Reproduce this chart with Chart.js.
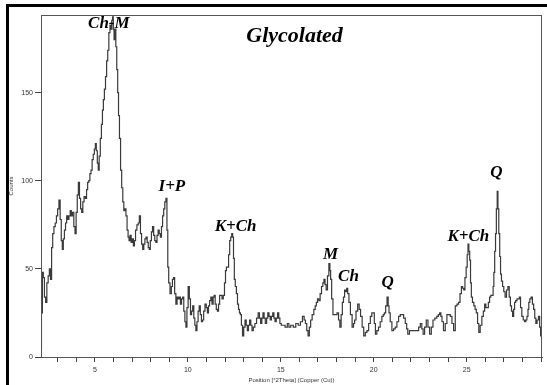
<!DOCTYPE html>
<html>
<head>
<meta charset="utf-8">
<script src="https://cdn.jsdelivr.net/npm/chart.js@4/dist/chart.umd.min.js"></script>
<style>
  html, body { margin: 0; padding: 0; background: #fff; }
  #wrap { width: 547px; height: 385px; position: relative; }
</style>
</head>
<body>
<div id="wrap"><canvas id="xrd" width="547" height="385"></canvas></div>
<script>
// diffraction trace (deg 2theta, counts)
const twoTheta = [
  2.10, 2.15, 2.20, 2.25, 2.32, 2.38, 2.45, 2.52, 2.58, 2.64,
  2.70, 2.76, 2.83, 2.90, 2.96, 3.03, 3.10, 3.16, 3.22, 3.27,
  3.33, 3.39, 3.45, 3.51, 3.57, 3.64, 3.70, 3.76, 3.83, 3.90,
  3.96, 4.02, 4.08, 4.14, 4.20, 4.26, 4.32, 4.38, 4.45, 4.52,
  4.58, 4.64, 4.70, 4.76, 4.82, 4.88, 4.94, 5.00, 5.05, 5.10,
  5.16, 5.20, 5.26, 5.32,
  5.38, 5.43, 5.48, 5.54, 5.60, 5.66, 5.72, 5.78, 5.84, 5.88,
  5.93, 5.97, 6.01, 6.05, 6.10, 6.15, 6.20, 6.25, 6.29, 6.35,
  6.41, 6.47, 6.53, 6.58, 6.64, 6.70, 6.76, 6.81, 6.86, 6.92,
  6.98, 7.04, 7.10, 7.15,
  7.22, 7.30, 7.36, 7.42, 7.48, 7.54, 7.60, 7.66, 7.72, 7.78,
  7.84, 7.90, 7.95, 8.01, 8.07, 8.13, 8.19, 8.25, 8.31, 8.37,
  8.43, 8.49, 8.55, 8.61, 8.67, 8.73, 8.79, 8.85, 8.90, 8.94,
  9.00, 9.08, 9.14, 9.20, 9.26, 9.32, 9.39, 9.45, 9.51, 9.57,
  9.63, 9.69, 9.75, 9.81, 9.87, 9.92, 9.98, 10.05, 10.11, 10.17,
  10.23, 10.29, 10.35, 10.40, 10.46, 10.52, 10.58, 10.64, 10.70, 10.76,
  10.82, 10.88, 10.96, 11.02, 11.08, 11.14, 11.20, 11.27, 11.33, 11.39,
  11.44, 11.50, 11.56, 11.62, 11.68, 11.74, 11.80, 11.87, 11.94, 12.00,
  12.05, 12.10, 12.16, 12.22, 12.28, 12.33, 12.39, 12.43, 12.48, 12.52,
  12.58,
  12.64, 12.70, 12.75, 12.80, 12.85, 12.91, 12.97, 13.04, 13.11, 13.17,
  13.23, 13.29, 13.35, 13.42, 13.48, 13.56, 13.65, 13.74, 13.82, 13.88,
  13.95, 14.01, 14.07, 14.13, 14.20, 14.27, 14.33, 14.40, 14.46, 14.53,
  14.60, 14.66, 14.72, 14.79, 14.86, 14.92, 14.98, 15.07, 15.16, 15.30,
  15.40, 15.47, 15.60, 15.74, 15.87, 16.00, 16.11, 16.22, 16.29, 16.36,
  16.43, 16.50, 16.57, 16.64, 16.73, 16.82, 16.88, 16.94, 17.01, 17.08,
  17.15, 17.23, 17.29, 17.35, 17.41, 17.47, 17.55, 17.62, 17.66, 17.70,
  17.77, 17.84, 17.91, 17.98,
  18.07, 18.14, 18.21, 18.28, 18.34, 18.40, 18.46, 18.52, 18.57, 18.63,
  18.70, 18.79, 18.88, 18.94, 19.00, 19.09, 19.18, 19.25, 19.33, 19.42,
  19.50, 19.59, 19.68, 19.77, 19.86, 19.93, 20.00, 20.06, 20.12, 20.21,
  20.30, 20.39, 20.48, 20.54, 20.60, 20.68, 20.75, 20.80, 20.84, 20.93,
  21.02, 21.11, 21.20, 21.29, 21.38, 21.47, 21.56, 21.65, 21.74, 21.80,
  21.86, 21.98, 22.10, 22.24, 22.37, 22.46, 22.55, 22.62, 22.69, 22.78,
  22.87, 22.96, 23.05, 23.14, 23.23, 23.34, 23.44, 23.51, 23.58, 23.64,
  23.70,
  23.80, 23.89, 23.98, 24.07, 24.16, 24.25, 24.34, 24.43, 24.52, 24.60,
  24.68, 24.75, 24.81, 24.87, 24.94, 25.00, 25.05, 25.09, 25.14, 25.18,
  25.23, 25.27, 25.35, 25.42, 25.48, 25.55, 25.62, 25.68, 25.77, 25.86,
  25.93, 26.00, 26.06, 26.13, 26.20, 26.26, 26.33, 26.40, 26.44, 26.48,
  26.53, 26.57, 26.62, 26.66, 26.70, 26.75, 26.80, 26.84, 26.90, 26.96,
  27.03, 27.10, 27.18, 27.25, 27.32, 27.38, 27.44, 27.50, 27.55, 27.60,
  27.67, 27.74, 27.80, 27.86, 27.93, 28.00, 28.08, 28.15, 28.21, 28.27,
  28.32, 28.36, 28.43, 28.50, 28.57, 28.63, 28.69, 28.75, 28.82, 28.90,
  28.95, 29.00
];

const counts = [
  4, 25, 48, 45, 34, 31, 42, 46, 50, 44,
  62, 70, 74, 76, 80, 84, 89, 78, 66, 61,
  67, 72, 76, 80, 78, 80, 83, 80, 82, 74,
  70, 82, 92, 99, 90, 84, 82, 88, 91, 90,
  95, 99, 100, 104, 106, 112, 115, 118, 121, 117,
  110, 106, 114, 124,
  132, 140, 146, 152, 159, 168, 174, 184, 188, 186,
  191, 193, 186, 180, 186, 176, 163, 150, 137, 124,
  106, 96, 88, 83, 84, 80, 72, 68, 66, 69,
  65, 67, 63, 66,
  72, 75, 76, 80, 70, 64, 61, 64, 67, 68,
  65, 62, 61, 66, 71, 74, 69, 66, 65, 69,
  72, 70, 68, 74, 80, 84, 88, 90, 72, 51,
  42, 36, 40, 44, 45, 36, 30, 34, 33, 34,
  30, 33, 34, 26, 20, 17, 28, 40, 33, 24,
  26, 29, 22, 18, 15, 20, 26, 29, 24, 20,
  21, 26, 30, 28, 25, 29, 32, 34, 30, 34,
  35, 30, 27, 26, 30, 35, 35, 33, 35, 42,
  49, 51, 51, 58, 66, 68, 70, 68, 56, 44,
  40,
  36, 30, 27, 25, 24, 18, 12, 17, 21, 18,
  15, 18, 21, 18, 15, 17, 19, 22, 25, 22,
  19, 22, 25, 22, 19, 22, 25, 23, 21, 23,
  25, 22, 20, 22, 25, 22, 19, 18, 18, 17,
  19, 17, 18, 17, 19, 18, 20, 23, 21, 19,
  15, 12, 17, 21, 24, 27, 29, 31, 33, 32,
  36, 40, 42, 44, 41, 38, 46, 53, 49, 44,
  33, 24, 24, 24,
  25, 21, 17, 24, 31, 34, 38, 37, 39, 36,
  31, 24, 17, 19, 21, 26, 30, 27, 23, 17,
  12, 14, 15, 19, 23, 25, 25, 19, 13, 15,
  17, 20, 23, 24, 25, 29, 34, 29, 25, 20,
  15, 16, 17, 20, 23, 24, 24, 22, 19, 16,
  13, 15, 15, 15, 15, 17, 19, 16, 13, 17,
  21, 17, 13, 17, 21, 22, 23, 24, 25, 23,
  20,
  15, 19, 24, 24, 23, 19, 15, 29, 30, 31,
  36, 40, 39, 38, 45, 51, 58, 64, 60, 55,
  42, 34, 31, 29, 27, 25, 19, 14, 18, 23,
  26, 30, 28, 28, 31, 34, 35, 35, 40, 48,
  60, 70, 84, 94, 84, 70, 57, 47, 43, 40,
  37, 34, 38, 40, 34, 29, 26, 23, 27, 31,
  32, 33, 33, 34, 28, 23, 21, 20, 21, 23,
  27, 31, 33, 34, 30, 27, 22, 19, 21, 23,
  17, 12
];

const yTicks = [0, 50, 100, 150];
const xTickLabels = [5, 10, 15, 20, 25];

// phase labels, placed in data coordinates
const peakLabels = ['Ch-M', 'I+P', 'K+Ch', 'M', 'Ch', 'Q', 'K+Ch', 'Q'];
const peakLabelX = [5.75, 9.14, 12.57, 17.67, 18.64, 20.74, 25.09, 26.59];
const peakLabelY = [189, 96.6, 73.9, 58, 45.5, 42, 68.2, 104.5];

const points = twoTheta.map((t, i) => ({ x: t, y: counts[i] }));

const frameAndLabels = {
    id: 'frameAndLabels',
    afterDraw(chart) {
        const c = chart.ctx;
        const a = chart.chartArea;
        const xs = chart.scales.x, ys = chart.scales.y;
        c.save();
        // thin box around the plot
        c.strokeStyle = '#555';
        c.lineWidth = 1;
        c.strokeRect(a.left + 0.5, a.top + 0.5, a.right - a.left - 1, a.bottom - a.top);
        // heavy outer frame (top / left)
        c.fillStyle = '#000';
        c.fillRect(6, 4, 3, 381);
        c.fillRect(6, 4, 541, 3);
        // text
        c.textAlign = 'center';
        c.textBaseline = 'middle';
        c.font = 'bold italic 22px "Liberation Serif"';
        c.fillText('Glycolated', xs.getPixelForValue(15.74), ys.getPixelForValue(181.8));
        c.font = 'bold italic 17px "Liberation Serif"';
        peakLabels.forEach((lbl, i) => {
            c.fillText(lbl, xs.getPixelForValue(peakLabelX[i]), ys.getPixelForValue(peakLabelY[i]));
        });
        c.restore();
    }
};

new Chart(document.getElementById('xrd').getContext('2d'), {
    type: 'line',
    data: {
        datasets: [{
            data: points,
            borderColor: '#3a3a3a',
            borderWidth: 1.2,
            pointRadius: 0,
            stepped: 'middle',
            fill: false
        }]
    },
    options: {
        responsive: false,
        animation: false,
        layout: { padding: { left: 8, top: 15, right: 5, bottom: 0 } },
        plugins: { legend: { display: false }, tooltip: { enabled: false } },
        scales: {
            x: {
                type: 'linear',
                min: 2.1,
                max: 29.05,
                afterFit: s => { s.height = 28; },
                afterBuildTicks: s => {
                    const t = [];
                    for (let v = 3; v <= 29; v++) t.push({ value: v });
                    s.ticks = t;
                },
                ticks: {
                    autoSkip: false,
                    maxRotation: 0,
                    padding: 4,
                    color: '#333',
                    font: { family: 'Arial, "Liberation Sans"', size: 7 },
                    callback: v => xTickLabels.includes(v) ? String(v) : ''
                },
                grid: { drawOnChartArea: false, tickLength: 5, color: '#444' },
                border: { color: '#444' },
                title: {
                    display: true,
                    text: 'Position [°2Theta] (Copper (Cu))',
                    color: '#333',
                    font: { family: 'Arial, "Liberation Sans"', size: 6 },
                    padding: { top: 0, bottom: 1 }
                }
            },
            y: {
                min: 0,
                max: 194,
                afterFit: s => { s.width = 33; },
                afterBuildTicks: s => { s.ticks = yTicks.map(v => ({ value: v })); },
                ticks: {
                    padding: 2,
                    color: '#333',
                    font: { family: 'Arial, "Liberation Sans"', size: 7 }
                },
                grid: { drawOnChartArea: false, tickLength: 6, color: '#444' },
                border: { color: '#444' },
                title: {
                    display: true,
                    text: 'Counts',
                    color: '#333',
                    font: { family: 'Arial, "Liberation Sans"', size: 6 },
                    padding: { top: 0, bottom: 0 }
                }
            }
        }
    },
    plugins: [frameAndLabels]
});
</script>
</body>
</html>
